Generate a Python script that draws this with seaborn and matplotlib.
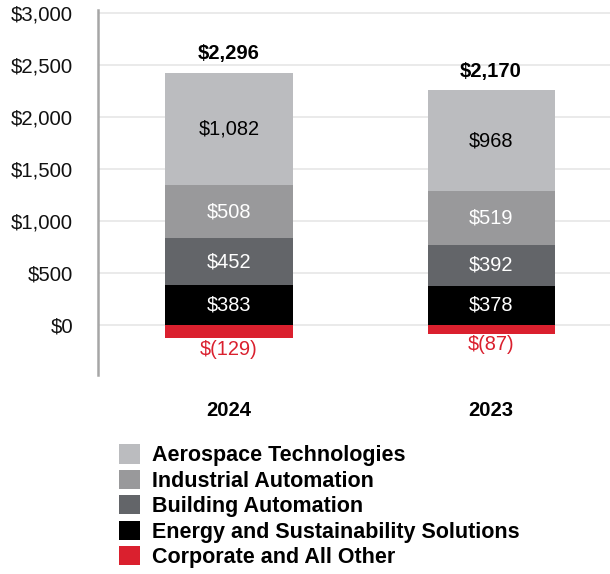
import numpy as np
import pandas as pd
import matplotlib
matplotlib.use("Agg")
import matplotlib.pyplot as plt
import seaborn as sns
from matplotlib.patches import Patch

sns.set_style("white")
plt.rcParams['font.family'] = ['Liberation Sans', 'DejaVu Sans']
plt.rcParams['text.color'] = 'black'

# DATA
years = ["2024", "2023"]
segments = ["Aerospace Technologies", "Industrial Automation", "Building Automation",
            "Energy and Sustainability Solutions", "Corporate and All Other"]
aerospace = [1082, 968]
industrial = [508, 519]
building = [452, 392]
energy = [383, 378]
corporate = [-129, -87]
totals = [2296, 2170]
yticks = [0, 500, 1000, 1500, 2000, 2500, 3000]

colors = ["#BBBCBF", "#99999B", "#636569", "#000000", "#DA202E"]

fig = plt.figure(figsize=(6.1, 5.74), dpi=100)
ax = fig.add_axes([0.1607, 0.3467, 0.8393, 0.636])

# stack positive segments bottom-up
stack = [energy, building, industrial, aerospace]
stack_colors = [colors[3], colors[2], colors[1], colors[0]]
stack_lcolors = ["white", "white", "white", "black"]
bottom = np.zeros(len(years))
for vals, c, lc in zip(stack, stack_colors, stack_lcolors):
    df = pd.DataFrame({"year": years, "value": vals})
    sns.barplot(data=df, x="year", y="value", bottom=bottom, color=c,
                width=0.485, ax=ax, saturation=1, linewidth=0, zorder=3)
    for i, v in enumerate(vals):
        ax.text(i, bottom[i] + v / 2, f"${v:,}", ha="center", va="center",
                color=lc, fontsize=14.4, zorder=4)
    bottom = bottom + np.array(vals)

# corporate negative segment
dfc = pd.DataFrame({"year": years, "value": corporate})
sns.barplot(data=dfc, x="year", y="value", color=colors[4], width=0.485,
            ax=ax, saturation=1, linewidth=0, zorder=3)
for i, v in enumerate(corporate):
    ax.annotate(f"$({-v})", (i, v), xytext=(0, -1), textcoords="offset points",
                ha="center", va="top", color=colors[4], fontsize=14.4)

# totals
for i, t in enumerate(totals):
    ax.annotate(f"${t:,}", (i, bottom[i]), xytext=(0, 7), textcoords="offset points",
                ha="center", va="bottom", fontsize=14.6, fontweight="bold")

ax.set_xlim(-0.5, 1.454)
ax.set_ylim(-481, 3029)
ax.set_yticks(yticks)
ax.set_yticklabels([f"${v:,}" for v in yticks], fontsize=14.6, color="#111111")
ax.set_xticks(range(len(years)))
ax.set_xticklabels(years, fontsize=14.6, fontweight="bold", color="black")
ax.tick_params(axis="x", length=0, pad=19)
ax.tick_params(axis="y", length=7.5, width=1.2, color="#A6A6A6", pad=10.5, direction="out")
ax.yaxis.grid(True, color="#E6E6E6", linewidth=1.2, zorder=0)
ax.set_axisbelow(True)
ax.set_xlabel("")
ax.set_ylabel("")
for s in ["top", "right", "bottom"]:
    ax.spines[s].set_visible(False)
ax.spines["left"].set_color("#A6A6A6")
ax.spines["left"].set_linewidth(1.8)

handles = [Patch(facecolor=c, edgecolor="none") for c in colors]
leg = fig.legend(handles, segments, loc="upper left", bbox_to_anchor=(0.195, 0.226),
                 frameon=False, prop={"weight": "bold", "size": 15.5},
                 handlelength=1.0, handleheight=1.0, handletextpad=0.55,
                 labelspacing=0.16, borderaxespad=0, borderpad=0)

fig.savefig("out.png", dpi=100)
